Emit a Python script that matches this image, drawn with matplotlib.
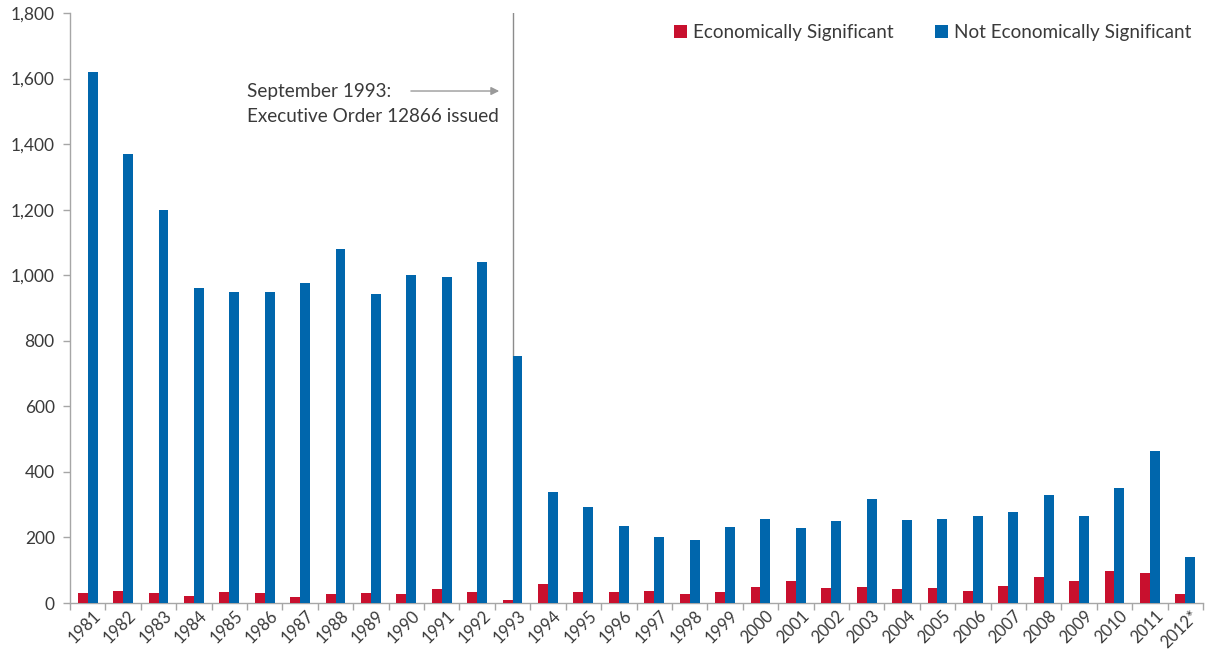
import matplotlib
matplotlib.use("Agg")
import matplotlib.pyplot as plt
from matplotlib.transforms import ScaledTranslation
import numpy as np

years = ["1981", "1982", "1983", "1984", "1985", "1986", "1987", "1988", "1989", "1990",
         "1991", "1992", "1993", "1994", "1995", "1996", "1997", "1998", "1999", "2000",
         "2001", "2002", "2003", "2004", "2005", "2006", "2007", "2008", "2009", "2010",
         "2011", "2012*"]
econ_sig = [29, 38, 32, 21, 35, 31, 19, 27, 29, 26, 43, 35, 9, 58, 33, 34, 37, 27, 34, 50,
            67, 45, 50, 44, 47, 37, 53, 79, 67, 97, 93, 27]
not_econ_sig = [1620, 1370, 1199, 961, 949, 950, 976, 1080, 943, 1001, 995, 1040, 753, 339,
                293, 235, 201, 192, 232, 256, 229, 250, 317, 253, 256, 265, 278, 329, 265,
                351, 464, 140]

RED = "#C8102E"
BLUE = "#0066AC"
TXT = "#3A3A3A"
GRID = "#A6A6A6"

plt.rcParams['font.family'] = ['Lato', 'DejaVu Sans']

fig = plt.figure(figsize=(12.07, 6.52), dpi=100)
ax = fig.add_axes([70/1207, 49/652, 1133/1207, 590/652])

x = np.arange(len(years))
w = 0.28
ax.bar(x - w/2, econ_sig, width=w, color=RED, label="Economically Significant", zorder=3)
ax.bar(x + w/2, not_econ_sig, width=w, color=BLUE, label="Not Economically Significant", zorder=3)

ax.set_xlim(-0.5, len(years) - 0.5)
ax.set_ylim(0, 1800)
ax.set_yticks(np.arange(0, 1801, 200))
ax.set_yticklabels([f"{v:,}" for v in range(0, 1801, 200)], fontsize=12.5, color=TXT)

ax.set_xticks(x)
ax.set_xticklabels(years, rotation=45, ha="right", rotation_mode="anchor", fontsize=12, color=TXT)
ax.tick_params(axis="x", which="major", length=0, pad=3.5)
offset = ScaledTranslation(5/100, 0, fig.dpi_scale_trans)
for lab in ax.get_xticklabels():
    lab.set_transform(lab.get_transform() + offset)
ax.set_xticks(np.arange(-0.5, len(years), 1), minor=True)
ax.tick_params(axis="x", which="minor", length=5, color=GRID, width=1)
ax.tick_params(axis="y", length=5, color=GRID, width=1, pad=6)

for s in ["top", "right"]:
    ax.spines[s].set_visible(False)
for s in ["left", "bottom"]:
    ax.spines[s].set_color(GRID)
    ax.spines[s].set_linewidth(1)

# Executive order marker
ax.axvline(12, color="#8C8C8C", lw=1, zorder=2)
ax.text(4.5, 1522, "September 1993:\nExecutive Order 12866 issued", fontsize=13.6,
        color=TXT, ha="left", va="center", linespacing=1.6)
ax.annotate("", xy=(11.7, 1562), xytext=(9.05, 1562),
            arrowprops=dict(arrowstyle="-|>", color="#9A9A9A", lw=1, mutation_scale=12))

leg = ax.legend(loc="upper right", bbox_to_anchor=(1.0, 1.0), ncol=2, frameon=False,
                fontsize=13.6, handlelength=0.65, handleheight=0.65, handletextpad=0.35,
                columnspacing=2.2, borderaxespad=0.2)
for t in leg.get_texts():
    t.set_color(TXT)

fig.savefig("out.png", dpi=100)
